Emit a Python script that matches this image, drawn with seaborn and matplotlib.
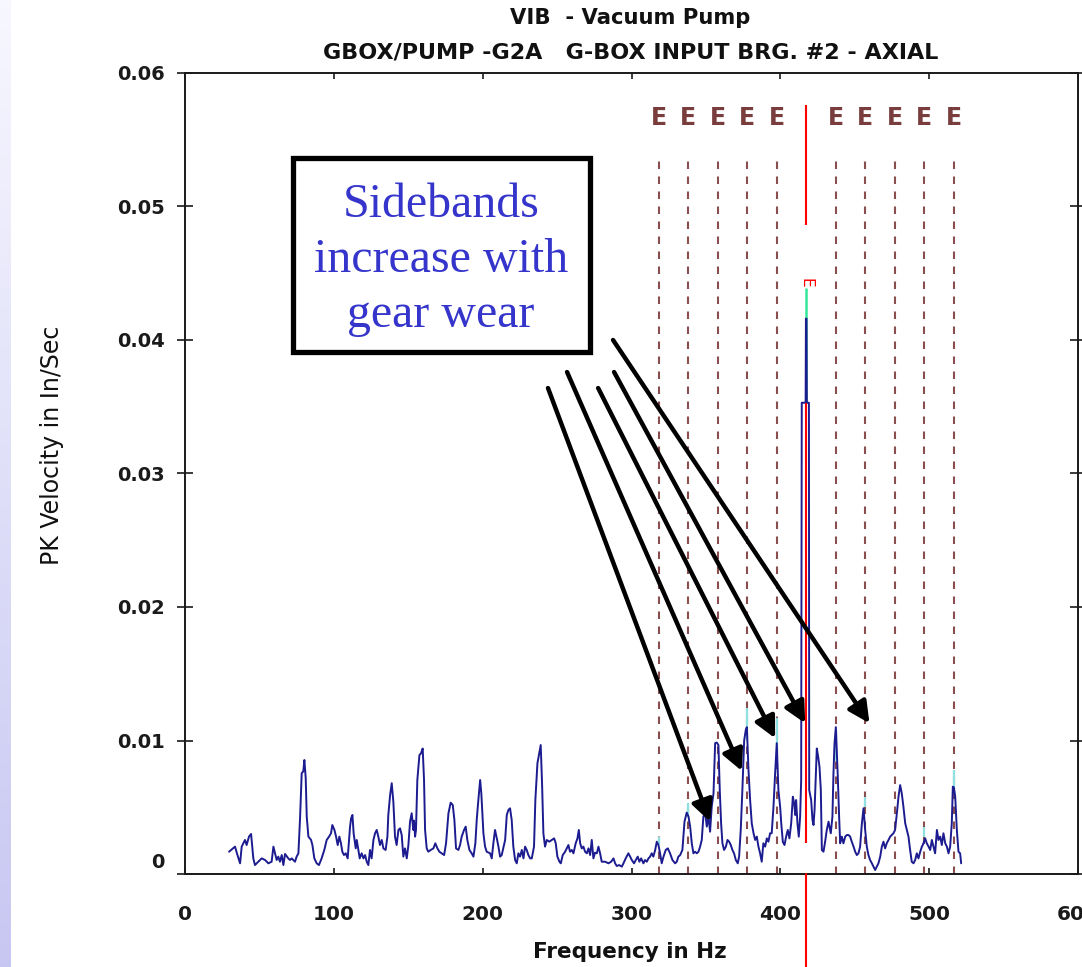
import numpy as np
import pandas as pd
import matplotlib
matplotlib.use("Agg")
import matplotlib.pyplot as plt
import seaborn as sns
from matplotlib.patches import Rectangle
import matplotlib.transforms as mtransforms

# ---------------------------------------------------------------------------
# Spectrum: frequency (Hz) and peak velocity (thousandths of in/s)
# ---------------------------------------------------------------------------
freq_hz = [
    29.6, 33.6, 35.3, 37.0, 38.1, 40.3, 41.4, 43.0, 44.4, 45.9, 47.0, 49.3,
    51.5, 53.8, 56.0, 58.2, 59.4, 60.5, 61.6, 62.7, 63.8, 65.0, 66.1, 67.2,
    69.4, 70.6, 71.7, 73.9, 75.0, 76.2, 77.3, 78.4, 79.5, 80.2, 81.1, 81.8,
    82.9, 84.7, 85.6, 86.9, 88.5, 90.0, 91.8, 93.6, 95.2, 96.8, 98.1, 99.0,
    100.4, 101.5, 102.6, 103.7, 104.8, 105.7, 106.8, 108.0, 109.3, 110.9, 111.6, 112.5,
    113.3, 114.7, 115.4, 116.5, 117.4, 118.7, 119.9, 121.0, 122.1, 123.2, 124.3, 125.4,
    126.6, 127.7, 128.8, 129.9, 131.0, 132.2, 133.3, 134.8, 136.0, 136.6, 137.8, 138.9,
    140.0, 141.1, 142.2, 143.4, 144.5, 145.6, 146.7, 147.8, 149.0, 150.1, 151.2, 152.3,
    153.4, 153.9, 154.6, 155.2, 156.1, 157.5, 158.6, 159.7, 160.6, 161.3, 162.4, 163.5,
    165.1, 166.9, 168.2, 169.6, 170.9, 172.5, 174.1, 175.4, 177.0, 178.5, 179.9, 181.0,
    182.1, 183.7, 184.8, 185.9, 187.5, 188.6, 189.7, 191.1, 192.6, 193.8, 195.1, 196.0,
    197.1, 198.3, 199.1, 200.5, 201.6, 202.7, 205.0, 206.1, 207.2, 208.3, 209.5, 210.6,
    211.7, 212.8, 215.1, 216.2, 217.3, 218.4, 219.5, 220.6, 221.8, 222.9, 224.0, 225.1,
    226.3, 227.4, 228.5, 229.6, 230.7, 231.9, 233.0, 234.5, 235.4, 236.8, 237.9, 239.0,
    239.9, 240.8, 241.9, 243.1, 244.8, 246.4, 248.0, 249.1, 250.2, 251.6, 252.5, 253.8,
    255.4, 256.5, 257.6, 258.7, 259.9, 261.0, 262.5, 263.7, 264.6, 265.5, 266.6, 267.7,
    268.8, 270.0, 271.1, 272.2, 273.3, 274.4, 275.5, 276.7, 277.8, 278.9, 280.0, 282.3,
    284.5, 286.3, 287.9, 289.0, 290.1, 291.7, 293.5, 294.6, 296.1, 297.9, 299.1, 300.2,
    301.7, 302.9, 304.2, 305.3, 306.5, 308.0, 309.1, 310.3, 311.4, 312.5, 313.6, 314.7,
    315.9, 317.0, 318.1, 319.2, 320.3, 321.5, 323.0, 324.4, 325.9, 327.5, 329.3, 330.4,
    331.5, 332.7, 334.2, 335.6, 337.1, 338.3, 339.4, 340.5, 341.6, 342.7, 343.9, 345.0,
    346.1, 347.2, 348.3, 349.5, 350.6, 351.7, 352.8, 353.9, 355.1, 356.2, 357.3, 358.4,
    359.3, 360.2, 361.1, 362.2, 363.4, 364.5, 365.6, 366.7, 367.8, 368.9, 370.1, 371.4,
    372.3, 373.4, 374.5, 375.7, 376.8, 377.5, 378.6, 379.7, 380.8, 382.0, 383.1, 384.2,
    385.3, 386.4, 387.5, 388.6, 389.8, 390.9, 392.0, 393.1, 394.2, 395.4, 396.5, 397.6,
    398.7, 399.9, 400.6, 401.7, 402.8, 403.9, 405.0, 406.1, 407.3, 408.4, 409.3, 410.0,
    410.6, 411.5, 412.4, 413.3, 414.0, 414.4, 417.0, 417.2, 417.6, 417.8, 419.2, 419.4,
    420.7, 421.6, 422.3, 423.0, 423.8, 424.5, 425.4, 426.3, 427.2, 427.9, 429.0, 430.1,
    431.2, 432.4, 433.0, 433.9, 435.0, 435.7, 436.4, 437.3, 437.9, 438.6, 439.5, 440.2,
    441.3, 442.4, 443.6, 444.7, 445.8, 446.9, 448.0, 449.2, 450.3, 451.4, 452.5, 453.6,
    454.8, 455.9, 457.0, 458.1, 459.2, 460.3, 461.5, 462.6, 463.7, 464.8, 465.9, 467.1,
    468.2, 469.3, 470.4, 471.5, 472.7, 473.8, 474.9, 476.0, 477.1, 478.3, 479.4, 480.5,
    481.6, 482.7, 483.9, 485.0, 486.1, 487.2, 488.3, 489.5, 490.6, 491.7, 492.8, 494.0,
    495.1, 496.2, 497.3, 498.4, 499.6, 500.7, 501.8, 502.9, 504.0, 505.2, 506.3, 507.4,
    508.5, 509.6, 510.8, 511.9, 513.0, 514.1, 515.2, 515.9, 516.6, 517.5, 518.6, 519.7,
    520.8, 521.5,
]
vel_milli_ips = [
    1.67, 2.05, 1.40, 0.80, 2.05, 2.55, 2.17, 2.80, 3.00, 1.17, 0.67, 0.92,
    1.17, 1.05, 0.80, 0.92, 2.05, 1.55, 1.05, 1.30, 0.92, 1.42, 0.67, 1.50,
    1.17, 1.05, 1.17, 0.92, 1.30, 1.55, 4.17, 7.54, 7.70, 8.54, 7.20, 4.30,
    2.80, 2.55, 2.17, 1.17, 0.80, 0.67, 1.17, 1.80, 2.55, 2.80, 3.05, 3.67,
    3.30, 2.80, 2.17, 2.80, 2.30, 1.67, 1.42, 1.55, 1.17, 3.55, 4.17, 4.42,
    3.05, 1.92, 2.55, 1.80, 1.17, 1.55, 1.17, 1.42, 0.92, 0.67, 1.80, 1.17,
    2.55, 3.05, 3.30, 2.80, 2.17, 2.55, 1.92, 1.80, 2.80, 4.42, 5.90, 6.80,
    5.40, 2.80, 2.17, 3.30, 3.42, 2.92, 1.30, 1.92, 1.17, 2.17, 3.92, 4.55,
    3.30, 4.00, 2.80, 3.30, 7.04, 8.90, 9.05, 9.40, 7.04, 3.30, 1.92, 1.67,
    1.80, 1.92, 2.30, 1.92, 1.67, 1.55, 1.42, 2.30, 4.55, 5.34, 5.17, 4.05,
    1.92, 1.80, 2.17, 2.80, 3.30, 3.55, 2.55, 1.80, 1.55, 1.30, 2.30, 4.05,
    5.54, 7.04, 6.04, 3.05, 2.05, 1.67, 1.55, 1.17, 2.30, 3.30, 2.67, 2.05,
    1.30, 1.42, 2.55, 4.42, 4.80, 4.92, 4.05, 2.05, 1.05, 0.80, 1.55, 1.30,
    1.80, 1.17, 2.05, 1.80, 1.42, 1.17, 1.17, 2.05, 5.54, 8.30, 9.00, 9.66,
    6.80, 3.05, 2.05, 2.55, 2.42, 2.55, 2.67, 2.30, 1.30, 0.92, 0.80, 1.42,
    1.67, 1.92, 2.17, 1.67, 1.80, 1.55, 2.30, 2.67, 3.30, 2.30, 1.92, 2.05,
    1.67, 1.55, 1.92, 1.42, 2.55, 1.17, 1.60, 1.55, 2.05, 1.55, 0.92, 0.92,
    0.80, 0.92, 1.17, 0.80, 0.60, 0.67, 0.55, 0.80, 1.17, 1.55, 1.30, 1.05,
    0.80, 1.05, 1.30, 0.92, 1.17, 0.80, 1.05, 0.92, 1.17, 1.30, 1.55, 1.30,
    1.80, 2.42, 2.17, 1.55, 0.80, 1.30, 1.80, 1.92, 1.55, 1.05, 0.80, 0.92,
    1.30, 1.42, 1.80, 3.92, 4.60, 4.30, 3.55, 2.30, 1.55, 1.67, 1.55, 1.67,
    2.05, 2.55, 4.30, 4.55, 3.55, 4.30, 3.17, 5.04, 6.04, 9.80, 9.85, 9.66,
    6.30, 3.80, 2.30, 1.80, 2.05, 2.55, 2.42, 2.17, 1.80, 1.55, 1.05, 0.80,
    1.30, 3.30, 6.30, 10.00, 10.80, 11.00, 7.80, 5.54, 3.80, 3.05, 2.55, 2.80,
    2.05, 1.55, 0.92, 2.30, 2.05, 2.67, 2.42, 3.05, 3.05, 5.04, 7.54, 9.80,
    6.30, 5.00, 3.80, 2.40, 2.17, 2.80, 3.30, 2.67, 3.80, 5.79, 5.30, 4.42,
    5.54, 3.80, 2.80, 4.30, 7.04, 35.30, 35.30, 41.60, 41.60, 35.30, 35.30, 6.30,
    5.54, 4.05, 3.67, 4.80, 7.30, 9.40, 8.80, 8.04, 6.30, 1.80, 1.67, 2.42,
    3.30, 3.92, 3.55, 3.05, 4.30, 7.54, 9.78, 11.00, 9.30, 7.30, 4.30, 2.30,
    2.80, 2.30, 2.80, 2.92, 2.92, 2.80, 2.42, 2.05, 1.67, 1.42, 1.55, 2.05,
    3.80, 4.92, 3.30, 2.05, 1.42, 1.05, 0.80, 0.55, 0.30, 0.55, 0.80, 1.30,
    2.05, 2.42, 1.92, 2.30, 2.55, 2.80, 2.92, 3.05, 3.30, 4.55, 5.79, 6.66,
    6.04, 5.04, 3.80, 3.30, 2.80, 1.80, 0.92, 0.80, 1.05, 1.55, 1.17, 1.67,
    2.05, 2.30, 2.67, 2.30, 2.05, 1.80, 2.55, 2.05, 1.55, 3.30, 2.55, 2.80,
    2.17, 3.05, 2.30, 2.05, 1.55, 2.05, 3.80, 6.54, 6.50, 5.79, 3.30, 1.67,
    1.55, 0.80,
]

# Gear mesh frequency and its sideband cursors (Hz)
gmf_hz = 417.4
sideband_hz = [318.2, 338.0, 357.9, 377.7, 397.6, 437.2, 457.1, 476.9, 496.8, 516.6]

# Interpolated true-peak markers at sideband lines (thousandths of in/s)
tip_hz = [318.2, 338.0, 377.7, 397.6, 437.2, 457.1, 496.8, 516.6]
tip_low = [2.2, 4.3, 10.0, 9.0, 8.5, 5.0, 2.8, 6.3]
tip_high = [2.8, 5.3, 12.4, 11.7, 10.8, 5.8, 3.5, 7.8]
gmf_peak_low, gmf_peak_high = 35.3, 43.9

# Callout arrows: (start Hz, start in/s) -> (tip Hz, tip in/s)
arrow_start = [(243.9, 0.0364), (256.7, 0.0376), (277.6, 0.0364), (288.3, 0.0376), (287.6, 0.0400)]
arrow_end = [(352.8, 0.00392), (374.1, 0.00772), (396.5, 0.01017), (416.7, 0.01129), (459.9, 0.01129)]

x_ticks = [0, 100, 200, 300, 400, 500, 600]
y_ticks = [0, 0.01, 0.02, 0.03, 0.04, 0.05, 0.06]
y_tick_labels = ["0", "0.01", "0.02", "0.03", "0.04", "0.05", "0.06"]

# ---------------------------------------------------------------------------
sns.set_style("white")
plt.rcParams["font.family"] = ["DejaVu Sans"]

W, H = 1082, 967
fig = plt.figure(figsize=(W / 100, H / 100), dpi=100)
fig.patch.set_facecolor("white")

# soft lavender strip down the left edge
gax = fig.add_axes([0, 0, 11 / W, 1])
grad = np.linspace(0, 1, 256)[:, None]
top_c = np.array([0.97, 0.97, 1.0])
bot_c = np.array([0.78, 0.78, 0.95])
img = top_c[None, None, :] * (1 - grad[..., None]) + bot_c[None, None, :] * grad[..., None]
gax.imshow(img, aspect="auto", extent=[0, 1, 0, 1], origin="upper")
gax.axis("off")

ax = fig.add_axes([185 / W, 1 - 874 / H, 893 / W, 801 / H])

df = pd.DataFrame({"freq": freq_hz, "vel": np.asarray(vel_milli_ips) / 1000.0})

# sideband cursors
ax.vlines(sideband_hz, 0, 0.0536, colors="#8a4e4e", linestyles=(0, (3.6, 3.6)),
          linewidth=1.5, zorder=1)
for f in sideband_hz:
    ax.text(f, 0.0566, "E", ha="center", va="center", fontsize=17,
            fontweight="bold", color="#7a3d3d", zorder=2)

# true-peak markers behind the spectrum
ax.vlines(tip_hz, np.asarray(tip_low) / 1000, np.asarray(tip_high) / 1000,
          colors="#8fe0e0", linewidth=1.6, zorder=2)
ax.vlines([417.3], gmf_peak_low / 1000, gmf_peak_high / 1000,
          colors="#33e69a", linewidth=1.8, zorder=2)

# spectrum
sns.lineplot(data=df, x="freq", y="vel", sort=False, estimator=None,
             color="#1c1c90", linewidth=1.4, ax=ax, zorder=3)

# gear-mesh cursor
ax.vlines([gmf_hz - 0.3], 0.0486, 0.0576, colors="red", linewidth=1.5, zorder=4)
ax.vlines([gmf_hz - 0.3], 0.0023, 0.0353, colors="red", linewidth=1.5, zorder=4)
ax.plot([gmf_hz - 0.3, gmf_hz - 0.3], [0, -0.0071], color="red", linewidth=1.5,
        clip_on=False, zorder=4)
ax.text(417.2, 0.0443, "E", rotation=-90, ha="center", va="center",
        fontsize=11, color="red", zorder=5)

# callout box
ax.add_patch(Rectangle((0.1204, 0.6511), 0.4530 - 0.1204, 0.8945 - 0.6511,
                       transform=ax.transAxes, fill=True, facecolor="white",
                       edgecolor="black", linewidth=3.8, zorder=6))
ax.text(0.2867, 0.7665, "Sidebands\nincrease with\ngear wear", transform=ax.transAxes,
        ha="center", va="center", fontsize=34.5, linespacing=1.33,
        family="Liberation Serif", color="#3535cc", zorder=7)

for (x0, y0), (x1, y1) in zip(arrow_start, arrow_end):
    ax.annotate("", xy=(x1, y1), xytext=(x0, y0),
                arrowprops=dict(arrowstyle="-|>", color="black", lw=3.2,
                                mutation_scale=32, shrinkA=0, shrinkB=0),
                zorder=8)

# axes styling
ax.set_xlim(0, 600)
ax.set_ylim(0, 0.06)
ax.set_xticks(x_ticks)
ax.set_yticks(y_ticks)
ax.set_yticklabels(y_tick_labels)
ax.set_xlabel("")
ax.set_ylabel("")
for s in ax.spines.values():
    s.set_visible(True)
    s.set_color("#1a1a1a")
    s.set_linewidth(1.4)

ax.tick_params(axis="y", direction="inout", length=12, width=1.2, left=True,
               right=True, pad=8.5, labelsize=14, colors="#1a1a1a")
ax.tick_params(axis="x", direction="in", length=4.5, width=1.2, bottom=True,
               top=True, pad=22, labelsize=14.5, colors="#1a1a1a")
for lab in ax.get_xticklabels() + ax.get_yticklabels():
    lab.set_fontweight("bold")
# lift the zero label off the corner
zero_lab = ax.get_yticklabels()[0]
zero_lab.set_transform(zero_lab.get_transform() +
                       mtransforms.ScaledTranslation(0, 14 / 100, fig.dpi_scale_trans))

fig.text(630 / W, 1 - 18 / H, "VIB  - Vacuum Pump", ha="center", va="center",
         fontsize=15.2, fontweight="bold", color="#111111")
fig.text(631 / W, 1 - 52 / H, "GBOX/PUMP -G2A   G-BOX INPUT BRG. #2 - AXIAL",
         ha="center", va="center", fontsize=16, fontweight="bold", color="#111111")
fig.text(630 / W, 1 - 952 / H, "Frequency in Hz", ha="center", va="center",
         fontsize=15.5, fontweight="bold", color="#111111")
fig.text(52 / W, 1 - 445 / H, "PK Velocity in In/Sec", ha="center", va="center",
         rotation=90, fontsize=17, color="#111111")

fig.savefig("out.png", dpi=100)
